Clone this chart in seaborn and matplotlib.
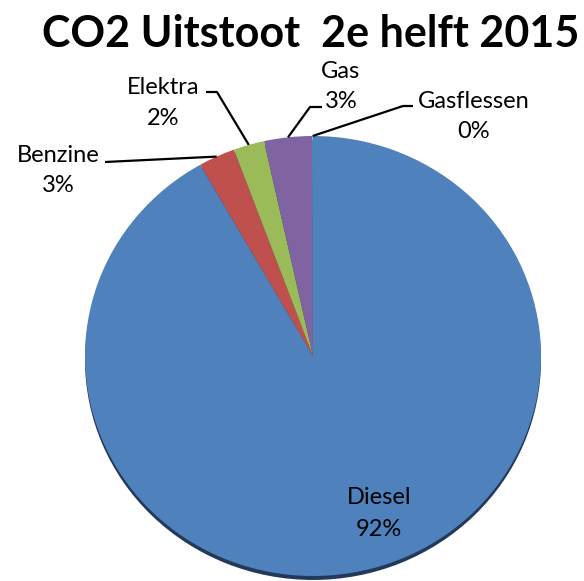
import numpy as np
import matplotlib
matplotlib.use("Agg")
import matplotlib.pyplot as plt
import seaborn as sns

categories = ["Diesel", "Benzine", "Elektra", "Gas", "Gasflessen"]
values = [91.9, 2.6, 2.2, 3.4, 0.05]
colors = ["#4F81BD", "#C0504D", "#9BBB59", "#8064A2", "#4BACC6"]
title = "CO2 Uitstoot  2e helft 2015"

sns.set_theme(style="white")
plt.rcParams["font.family"] = ["Lato", "DejaVu Sans"]

W, H = 584, 581
fig = plt.figure(figsize=(W / 100, H / 100), dpi=100)
ax = fig.add_axes([0, 0, 1, 1])

# reference pixel geometry
CX, CY, RX, RY = 313, 356, 228, 220
def px(x, y):
    return ((x - CX) / RX, (CY - y) / RY)

# shadow
ax.pie([1], colors=["#22395A"], radius=1.0, center=(0, -0.018),
       wedgeprops=dict(linewidth=0), startangle=90)
wedges, _ = ax.pie(values, colors=colors, startangle=90, counterclock=False,
                   radius=1.0, wedgeprops=dict(linewidth=0))
ax.set_aspect("auto")
ax.set_xlim(-CX / RX, (W - CX) / RX)
ax.set_ylim(-(H - CY) / RY, CY / RY)
ax.axis("off")

total = sum(values)
pcts = [f"{round(v / total * 100)}%" for v in values]

# label layout (reference pixel coordinates): block centre, elbow points
layout = {
    "Diesel": dict(text=(379, 512), line=None),
    "Benzine": dict(text=(58.5, 169), line=[(105, 162)]),
    "Elektra": dict(text=(163.5, 101.5), line=[(206, 92), (217, 92)]),
    "Gas": dict(text=(341, 85), line=[(322, 107), (310, 107)]),
    "Gasflessen": dict(text=(474, 115), line=[(413, 106), (403, 106)]),
}
FS = 17
HALF_GAP = 15.5   # px between block centre and each line's cap centre
CAP_HALF = 8      # px half cap height

for w, cat, p in zip(wedges, categories, pcts):
    lay = layout[cat]
    cx, cy = lay["text"]
    for s, dy in ((cat, -HALF_GAP), (p, HALF_GAP)):
        tx, ty = px(cx, cy + dy + CAP_HALF)
        ax.text(tx, ty, s, ha="center", va="baseline", fontsize=FS,
                color="black")
    if lay["line"]:
        mid = np.deg2rad((w.theta1 + w.theta2) / 2)
        ex, ey = np.cos(mid), np.sin(mid)
        pts = [px(*q) for q in lay["line"]] + [(ex, ey)]
        ax.plot([q[0] for q in pts], [q[1] for q in pts], color="black",
                lw=1.6, solid_capstyle="butt", zorder=5)

fig.text(311 / W, 1 - 47 / H, title, ha="center", va="baseline",
         fontsize=31, fontweight="bold", color="black")

fig.savefig("out.png", dpi=100)
